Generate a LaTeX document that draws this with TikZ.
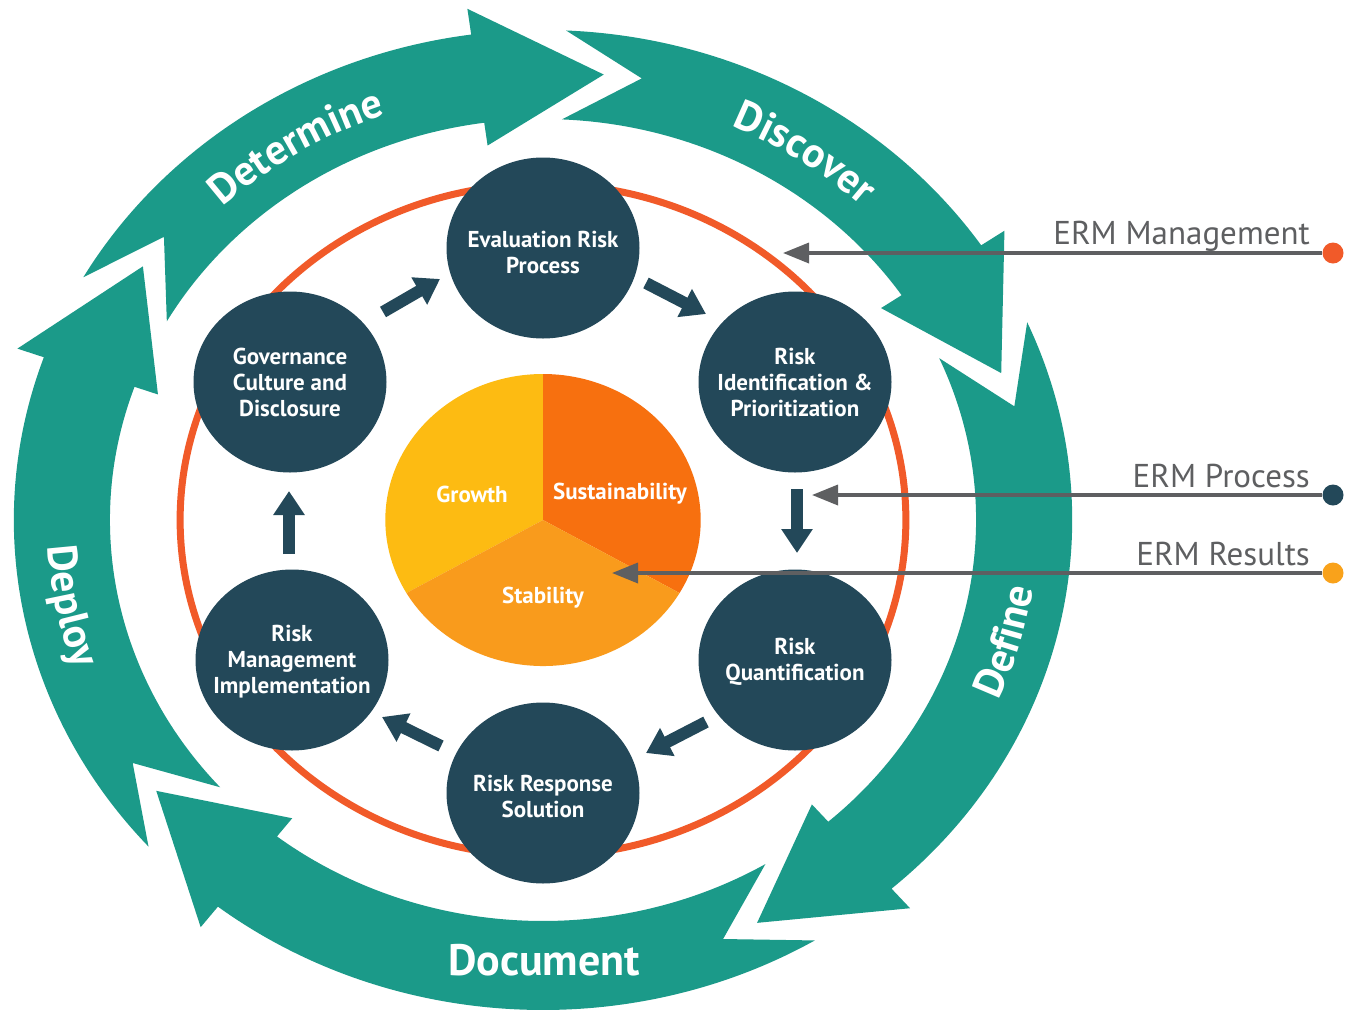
\documentclass[tikz,border=0pt]{standalone}
\usepackage{fontspec}
\setmainfont{PT Sans}
\usetikzlibrary{arrows.meta,shapes.geometric,decorations.text}
\definecolor{teal1}{HTML}{1B9A89}
\definecolor{navy}{HTML}{234859}
\definecolor{ringred}{HTML}{F15A29}
\definecolor{gold}{HTML}{FDBB12}
\definecolor{deeporange}{HTML}{F7700F}
\definecolor{midorange}{HTML}{F99B1C}
\definecolor{ermgrey}{HTML}{5E5F61}
\definecolor{resultdot}{HTML}{F9A21B}
% #1 = tip angle of the previous arrow, #2 = tip angle of this arrow
\newcommand\ringarrow[2]{%
  \fill[teal1] ({#1+4.7}:490) arc[start angle={#1+4.7}, end angle={#2+15}, radius=490]
    -- ({#2+15}:516) -- (#2:449) -- ({#2+15}:378) -- ({#2+15}:401)
    arc[start angle={#2+15}, end angle={#1+4.7}, radius=401]
    -- ({#1-4.5}:451) -- cycle;}
\newcommand\ringlabel[5]{% #1 text, #2 start angle, #3 end angle, #4 radius, #5 size
  \path[decorate, decoration={text along path, text align=center, text color=white,
    text={|\fontsize{#5}{#5}\selectfont\bfseries|#1}}]
    (#2:#4) arc[start angle=#2, end angle=#3, radius=#4];}
\begin{document}
\begin{tikzpicture}[x=1pt, y=1pt,
  stage/.style={ellipse, fill=navy, minimum width=193pt, minimum height=181pt, inner sep=0pt},
  stagetext/.style={text=white, inner sep=0pt, align=center,
    font=\fontsize{23}{26}\selectfont\bfseries},
  pielab/.style={text=white, font=\fontsize{23}{26}\selectfont\bfseries, inner sep=0pt},
  ringtext/.style={text=white, font=\fontsize{44}{46}\selectfont\bfseries, inner sep=0pt},
  blk/.style={navy, line width=12pt, -{Triangle[length=24pt, width=30pt]}},
  ermline/.style={ermgrey, line width=3.5pt, -{Triangle[length=26pt, width=20pt]}},
  ermlab/.style={text=ermgrey, font=\fontsize{33}{36}\selectfont, inner sep=0pt},
  dot/.style={circle, minimum size=21pt, inner sep=0pt}]
\fill[white] (0,0) rectangle (1345,-1010);
\useasboundingbox (0,0) rectangle (1345,-1010);

\begin{scope}[shift={(543,-520)}, xscale=1.08]
  % outer cycle of five arrows
  \ringarrow{145.6}{82.8}
  \ringarrow{82.8}{19.1}
  \ringarrow{19.1}{-63.8}
  \ringarrow{-63.8}{-142.9}
  \ringarrow{-142.9}{-214.4}
  % labels along the arrows
  \ringlabel{Determine}{152}{92}{431}{42}
  \ringlabel{Discover}{86}{26}{431}{42}
  \ringlabel{Define}{-45.6}{14.4}{459}{42}
  \ringlabel{Deploy}{161}{221}{459}{42}
  % orange ring
  \draw[ringred, line width=7pt] (0,0) circle[radius=336];
  % pie
  \fill[gold] (0,0) -- (90:146) arc[start angle=90, end angle=210, radius=146] -- cycle;
  \fill[deeporange] (0,0) -- (-30:146) arc[start angle=-30, end angle=90, radius=146] -- cycle;
  \fill[midorange] (0,0) -- (210:146) arc[start angle=210, end angle=330, radius=146] -- cycle;
\end{scope}
\node[ringtext, anchor=base] (doclab) at (544,-975) {Document};

\node[pielab] (growth) at (472,-494) {Growth};
\node[pielab] (sust) at (620,-494) {Sustainability};
\node[pielab] (stab) at (543,-598) {Stability};

% stages
\node[stage] (eval) at (543,-248) {};
\node[stage] (ident) at (795,-382) {};
\node[stage] (quant) at (795,-660) {};
\node[stage] (resp) at (543,-793) {};
\node[stage] (impl) at (292,-660) {};
\node[stage] (gov) at (290,-382) {};
\node[stagetext] (evalt) at ([yshift=-4pt]eval.center) {Evaluation Risk\\Process};
\node[stagetext] (identt) at (ident.center) {Risk\\Identification \&\\Prioritization};
\node[stagetext] (quantt) at ([yshift=-2pt]quant.center) {Risk\\Quantification};
\node[stagetext] (respt) at ([yshift=-3pt]resp.center) {Risk Response\\Solution};
\node[stagetext] (implt) at ([yshift=-2pt]impl.center) {Risk\\Management\\Implementation};
\node[stagetext] (govt) at (gov.center) {Governance\\Culture and\\Disclosure};

% block arrows between stages
\coordinate (g1) at (383,-312); \coordinate (g2) at (440,-279);
\coordinate (e1) at (646,-283); \coordinate (e2) at (706,-314);
\coordinate (i1) at (797,-489); \coordinate (i2) at (797,-553);
\coordinate (q1) at (706,-722); \coordinate (q2) at (646,-753);
\coordinate (r1) at (441,-746); \coordinate (r2) at (382,-717);
\coordinate (m1) at (289,-554); \coordinate (m2) at (289,-491);
\draw[blk] (g1) -- (g2);
\draw[blk] (e1) -- (e2);
\draw[blk] (i1) -- (i2);
\draw[blk] (q1) -- (q2);
\draw[blk] (r1) -- (r2);
\draw[blk] (m1) -- (m2);

% ERM legend lines
\node[dot, fill=ringred] (mdot) at (1333,-253) {};
\node[dot, fill=navy] (pdot) at (1333,-495) {};
\node[dot, fill=resultdot] (rdot) at (1333,-573) {};
\coordinate (mtip) at (783,-253);
\coordinate (ptip) at (812,-495);
\coordinate (rtip) at (612,-573);
\draw[ermline] (mdot) -- (mtip);
\draw[ermline] (pdot) -- (ptip);
\draw[ermline] (rdot) -- (rtip);
\node[ermlab, anchor=base east] (mlab) at (1310,-244) {ERM Management};
\node[ermlab, anchor=base east] (plab) at (1310,-487) {ERM Process};
\node[ermlab, anchor=base east] (rlab) at (1310,-565) {ERM Results};
\end{tikzpicture}
\end{document}
